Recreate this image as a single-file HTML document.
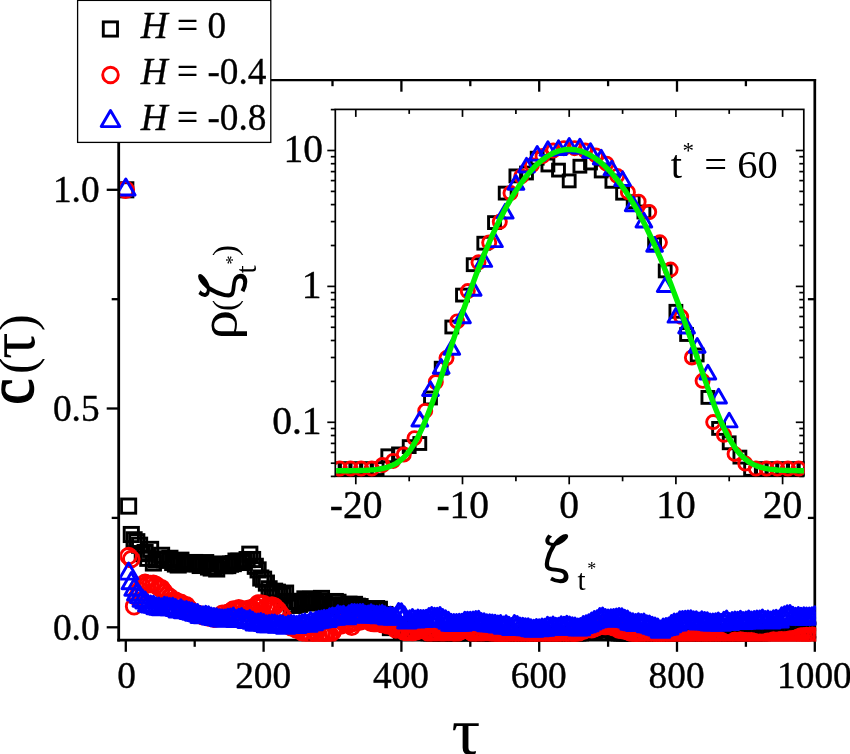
<!DOCTYPE html>
<html lang="en"><head><meta charset="utf-8"><title>C(tau) autocorrelation plot</title>
<style>html,body{margin:0;padding:0;background:#fff}svg{display:block}text{font-family:"Liberation Serif","DejaVu Serif",serif;fill:#000}</style>
</head><body>
<svg width="850" height="754" viewBox="0 0 850 754">
<defs>
<rect id="sq" x="-7.1" y="-7.1" width="14.2" height="14.2" fill="none" stroke="#000" stroke-width="2.9"/>
<circle id="ci" r="7.8" fill="none" stroke="#ff0000" stroke-width="2.9"/>
<path id="tr" d="M0,-10.9 L9.3,5.2 L-9.3,5.2 Z" fill="none" stroke="#0000ff" stroke-width="2.9" stroke-linejoin="round"/>
<rect id="sq2" x="-5.95" y="-5.95" width="11.9" height="11.9" fill="none" stroke="#000" stroke-width="2.9"/>
<circle id="ci2" r="6.55" fill="none" stroke="#ff0000" stroke-width="2.9"/>
<path id="tr2" d="M0,-9.13 L7.9,4.57 L-7.9,4.57 Z" fill="none" stroke="#0000ff" stroke-width="2.9" stroke-linejoin="round"/>
<clipPath id="cm"><rect x="120.1" y="79" width="696.05" height="562.5"/></clipPath>
<clipPath id="ci_"><rect x="336.15" y="108.5" width="468.5" height="368.65"/></clipPath>
</defs>
<rect width="850" height="754" fill="#fff"/>
<g stroke="#000" stroke-width="2.3" fill="none" stroke-linecap="butt">
<path d="M118.7,79.1 V641.5" stroke-width="2.8"/>
<path d="M117.3,640.1 H816.1" stroke-width="2.8"/>
<path d="M814.8,79.1 V641.5" stroke-width="2.7"/>
<path d="M117.3,80.2 H816.1" stroke-width="2.2"/>
<line x1="125.8" y1="640.1" x2="125.8" y2="651.8"/>
<line x1="194.7" y1="640.1" x2="194.7" y2="646.8"/>
<line x1="194.7" y1="80.2" x2="194.7" y2="86.2"/>
<line x1="263.6" y1="640.1" x2="263.6" y2="651.8"/>
<line x1="263.6" y1="80.2" x2="263.6" y2="91.7"/>
<line x1="332.5" y1="640.1" x2="332.5" y2="646.8"/>
<line x1="332.5" y1="80.2" x2="332.5" y2="86.2"/>
<line x1="401.4" y1="640.1" x2="401.4" y2="651.8"/>
<line x1="401.4" y1="80.2" x2="401.4" y2="91.7"/>
<line x1="470.3" y1="640.1" x2="470.3" y2="646.8"/>
<line x1="470.3" y1="80.2" x2="470.3" y2="86.2"/>
<line x1="539.2" y1="640.1" x2="539.2" y2="651.8"/>
<line x1="539.2" y1="80.2" x2="539.2" y2="91.7"/>
<line x1="608.1" y1="640.1" x2="608.1" y2="646.8"/>
<line x1="608.1" y1="80.2" x2="608.1" y2="86.2"/>
<line x1="677.0" y1="640.1" x2="677.0" y2="651.8"/>
<line x1="677.0" y1="80.2" x2="677.0" y2="91.7"/>
<line x1="745.9" y1="640.1" x2="745.9" y2="646.8"/>
<line x1="745.9" y1="80.2" x2="745.9" y2="86.2"/>
<line x1="814.8" y1="640.1" x2="814.8" y2="651.8"/>
<line x1="118.7" y1="627.3" x2="106.7" y2="627.3"/>
<line x1="118.7" y1="517.9" x2="111.7" y2="517.9"/>
<line x1="814.9" y1="517.9" x2="807.9" y2="517.9"/>
<line x1="118.7" y1="408.5" x2="106.7" y2="408.5"/>
<line x1="118.7" y1="299.2" x2="111.7" y2="299.2"/>
<line x1="814.9" y1="299.2" x2="807.9" y2="299.2"/>
<line x1="118.7" y1="189.8" x2="106.7" y2="189.8"/>
</g>
<g clip-path="url(#cm)">
<g>
<use href="#sq" x="125.8" y="189.8"/>
<use href="#sq" x="128.6" y="506.1"/>
<use href="#sq" x="131.3" y="534.5"/>
<use href="#sq" x="134.1" y="539.8"/>
<use href="#sq" x="136.8" y="541.7"/>
<use href="#sq" x="139.6" y="545.2"/>
<use href="#sq" x="142.3" y="553.6"/>
<use href="#sq" x="145.1" y="552.5"/>
<use href="#sq" x="147.8" y="558.3"/>
<use href="#sq" x="150.6" y="549.4"/>
<use href="#sq" x="153.4" y="563.0"/>
<use href="#sq" x="156.1" y="559.9"/>
<use href="#sq" x="158.9" y="558.9"/>
<use href="#sq" x="161.6" y="555.3"/>
<use href="#sq" x="164.4" y="559.8"/>
<use href="#sq" x="167.1" y="560.2"/>
<use href="#sq" x="169.9" y="558.3"/>
<use href="#sq" x="172.7" y="562.5"/>
<use href="#sq" x="175.4" y="564.0"/>
<use href="#sq" x="178.2" y="565.0"/>
<use href="#sq" x="180.9" y="560.2"/>
<use href="#sq" x="183.7" y="562.8"/>
<use href="#sq" x="186.4" y="562.6"/>
<use href="#sq" x="189.2" y="562.9"/>
<use href="#sq" x="191.9" y="564.0"/>
<use href="#sq" x="194.7" y="562.5"/>
<use href="#sq" x="197.5" y="563.7"/>
<use href="#sq" x="200.2" y="565.5"/>
<use href="#sq" x="203.0" y="564.7"/>
<use href="#sq" x="205.7" y="562.6"/>
<use href="#sq" x="208.5" y="567.0"/>
<use href="#sq" x="211.2" y="568.0"/>
<use href="#sq" x="214.0" y="567.4"/>
<use href="#sq" x="216.7" y="569.0"/>
<use href="#sq" x="219.5" y="564.1"/>
<use href="#sq" x="222.3" y="564.4"/>
<use href="#sq" x="225.0" y="565.7"/>
<use href="#sq" x="227.8" y="565.6"/>
<use href="#sq" x="230.5" y="564.2"/>
<use href="#sq" x="233.3" y="563.6"/>
<use href="#sq" x="236.0" y="561.1"/>
<use href="#sq" x="238.8" y="561.2"/>
<use href="#sq" x="241.6" y="562.5"/>
<use href="#sq" x="244.3" y="562.0"/>
<use href="#sq" x="247.1" y="559.6"/>
<use href="#sq" x="249.8" y="554.2"/>
<use href="#sq" x="252.6" y="559.5"/>
<use href="#sq" x="255.3" y="566.3"/>
<use href="#sq" x="258.1" y="569.9"/>
<use href="#sq" x="260.8" y="578.0"/>
<use href="#sq" x="263.6" y="579.2"/>
<use href="#sq" x="266.4" y="583.1"/>
<use href="#sq" x="269.1" y="588.8"/>
<use href="#sq" x="271.9" y="592.2"/>
<use href="#sq" x="274.6" y="591.2"/>
<use href="#sq" x="277.4" y="592.2"/>
<use href="#sq" x="280.1" y="595.7"/>
<use href="#sq" x="282.9" y="595.0"/>
<use href="#sq" x="285.6" y="593.1"/>
<use href="#sq" x="288.4" y="601.6"/>
<use href="#sq" x="291.2" y="604.8"/>
<use href="#sq" x="293.9" y="605.4"/>
<use href="#sq" x="296.7" y="601.3"/>
<use href="#sq" x="299.4" y="604.4"/>
<use href="#sq" x="302.2" y="602.8"/>
<use href="#sq" x="304.9" y="598.9"/>
<use href="#sq" x="307.7" y="603.0"/>
<use href="#sq" x="310.5" y="599.3"/>
<use href="#sq" x="313.2" y="599.8"/>
<use href="#sq" x="316.0" y="602.1"/>
<use href="#sq" x="318.7" y="600.9"/>
<use href="#sq" x="321.5" y="598.4"/>
<use href="#sq" x="324.2" y="604.0"/>
<use href="#sq" x="327.0" y="605.5"/>
<use href="#sq" x="329.7" y="606.6"/>
<use href="#sq" x="332.5" y="605.0"/>
<use href="#sq" x="335.3" y="601.5"/>
<use href="#sq" x="338.0" y="602.3"/>
<use href="#sq" x="340.8" y="605.4"/>
<use href="#sq" x="343.5" y="605.3"/>
<use href="#sq" x="346.3" y="605.4"/>
<use href="#sq" x="349.0" y="604.2"/>
<use href="#sq" x="351.8" y="605.7"/>
<use href="#sq" x="354.5" y="604.4"/>
<use href="#sq" x="357.3" y="606.2"/>
<use href="#sq" x="360.1" y="606.6"/>
<use href="#sq" x="362.8" y="608.8"/>
<use href="#sq" x="365.6" y="610.3"/>
<use href="#sq" x="368.3" y="611.6"/>
<use href="#sq" x="371.1" y="610.6"/>
<use href="#sq" x="373.8" y="609.4"/>
<use href="#sq" x="376.6" y="608.6"/>
<use href="#sq" x="379.4" y="609.3"/>
<use href="#sq" x="382.1" y="616.0"/>
<use href="#sq" x="384.9" y="614.5"/>
<use href="#sq" x="387.6" y="622.1"/>
<use href="#sq" x="390.4" y="627.6"/>
<use href="#sq" x="393.1" y="624.7"/>
<use href="#sq" x="395.9" y="624.7"/>
<use href="#sq" x="398.6" y="626.9"/>
<use href="#sq" x="401.4" y="632.2"/>
<use href="#sq" x="404.2" y="629.6"/>
<use href="#sq" x="406.9" y="630.0"/>
<use href="#sq" x="409.7" y="630.1"/>
<use href="#sq" x="412.4" y="629.5"/>
<use href="#sq" x="415.2" y="630.9"/>
<use href="#sq" x="417.9" y="631.4"/>
<use href="#sq" x="420.7" y="630.9"/>
<use href="#sq" x="423.4" y="628.8"/>
<use href="#sq" x="426.2" y="631.0"/>
<use href="#sq" x="429.0" y="633.1"/>
<use href="#sq" x="431.7" y="633.3"/>
<use href="#sq" x="434.5" y="634.6"/>
<use href="#sq" x="437.2" y="633.1"/>
<use href="#sq" x="440.0" y="633.7"/>
<use href="#sq" x="442.7" y="633.3"/>
<use href="#sq" x="445.5" y="634.2"/>
<use href="#sq" x="448.3" y="632.9"/>
<use href="#sq" x="451.0" y="633.7"/>
<use href="#sq" x="453.8" y="632.9"/>
<use href="#sq" x="456.5" y="633.1"/>
<use href="#sq" x="459.3" y="633.6"/>
<use href="#sq" x="462.0" y="633.5"/>
<use href="#sq" x="464.8" y="630.6"/>
<use href="#sq" x="467.5" y="630.0"/>
<use href="#sq" x="470.3" y="630.8"/>
<use href="#sq" x="473.1" y="631.6"/>
<use href="#sq" x="475.8" y="634.5"/>
<use href="#sq" x="478.6" y="634.1"/>
<use href="#sq" x="481.3" y="633.7"/>
<use href="#sq" x="484.1" y="633.5"/>
<use href="#sq" x="486.8" y="634.2"/>
<use href="#sq" x="489.6" y="633.3"/>
<use href="#sq" x="492.3" y="634.6"/>
<use href="#sq" x="495.1" y="634.9"/>
<use href="#sq" x="497.9" y="634.8"/>
<use href="#sq" x="500.6" y="633.1"/>
<use href="#sq" x="503.4" y="633.1"/>
<use href="#sq" x="506.1" y="634.4"/>
<use href="#sq" x="508.9" y="633.0"/>
<use href="#sq" x="511.6" y="633.6"/>
<use href="#sq" x="514.4" y="633.5"/>
<use href="#sq" x="517.2" y="634.7"/>
<use href="#sq" x="519.9" y="634.6"/>
<use href="#sq" x="522.7" y="635.5"/>
<use href="#sq" x="525.4" y="633.3"/>
<use href="#sq" x="528.2" y="634.4"/>
<use href="#sq" x="530.9" y="633.5"/>
<use href="#sq" x="533.7" y="635.2"/>
<use href="#sq" x="536.4" y="634.1"/>
<use href="#sq" x="539.2" y="634.4"/>
<use href="#sq" x="542.0" y="634.8"/>
<use href="#sq" x="544.7" y="633.8"/>
<use href="#sq" x="547.5" y="635.0"/>
<use href="#sq" x="550.2" y="634.4"/>
<use href="#sq" x="553.0" y="635.1"/>
<use href="#sq" x="555.7" y="635.5"/>
<use href="#sq" x="558.5" y="635.1"/>
<use href="#sq" x="561.2" y="635.1"/>
<use href="#sq" x="564.0" y="634.1"/>
<use href="#sq" x="566.8" y="634.9"/>
<use href="#sq" x="569.5" y="635.1"/>
<use href="#sq" x="572.3" y="635.2"/>
<use href="#sq" x="575.0" y="635.5"/>
<use href="#sq" x="577.8" y="634.6"/>
<use href="#sq" x="580.5" y="633.2"/>
<use href="#sq" x="583.3" y="631.7"/>
<use href="#sq" x="586.1" y="632.1"/>
<use href="#sq" x="588.8" y="630.4"/>
<use href="#sq" x="591.6" y="631.1"/>
<use href="#sq" x="594.3" y="630.5"/>
<use href="#sq" x="597.1" y="629.3"/>
<use href="#sq" x="599.8" y="629.8"/>
<use href="#sq" x="602.6" y="628.5"/>
<use href="#sq" x="605.3" y="629.7"/>
<use href="#sq" x="608.1" y="629.5"/>
<use href="#sq" x="610.9" y="630.1"/>
<use href="#sq" x="613.6" y="631.5"/>
<use href="#sq" x="616.4" y="632.4"/>
<use href="#sq" x="619.1" y="634.1"/>
<use href="#sq" x="621.9" y="634.7"/>
<use href="#sq" x="624.6" y="635.3"/>
<use href="#sq" x="627.4" y="635.5"/>
<use href="#sq" x="630.1" y="634.1"/>
<use href="#sq" x="632.9" y="634.1"/>
<use href="#sq" x="635.7" y="633.5"/>
<use href="#sq" x="638.4" y="634.8"/>
<use href="#sq" x="641.2" y="633.9"/>
<use href="#sq" x="643.9" y="635.7"/>
<use href="#sq" x="646.7" y="634.2"/>
<use href="#sq" x="649.4" y="635.4"/>
<use href="#sq" x="652.2" y="635.4"/>
<use href="#sq" x="655.0" y="634.2"/>
<use href="#sq" x="657.7" y="632.5"/>
<use href="#sq" x="660.5" y="634.8"/>
<use href="#sq" x="663.2" y="635.3"/>
<use href="#sq" x="666.0" y="635.1"/>
<use href="#sq" x="668.7" y="636.4"/>
<use href="#sq" x="671.5" y="636.0"/>
<use href="#sq" x="674.2" y="636.0"/>
<use href="#sq" x="677.0" y="636.0"/>
<use href="#sq" x="679.8" y="636.2"/>
<use href="#sq" x="682.5" y="636.6"/>
<use href="#sq" x="685.3" y="635.8"/>
<use href="#sq" x="688.0" y="637.1"/>
<use href="#sq" x="690.8" y="636.6"/>
<use href="#sq" x="693.5" y="636.6"/>
<use href="#sq" x="696.3" y="634.9"/>
<use href="#sq" x="699.0" y="636.4"/>
<use href="#sq" x="701.8" y="636.3"/>
<use href="#sq" x="704.6" y="637.0"/>
<use href="#sq" x="707.3" y="635.0"/>
<use href="#sq" x="710.1" y="633.2"/>
<use href="#sq" x="712.8" y="631.1"/>
<use href="#sq" x="715.6" y="633.0"/>
<use href="#sq" x="718.3" y="632.9"/>
<use href="#sq" x="721.1" y="633.1"/>
<use href="#sq" x="723.9" y="634.4"/>
<use href="#sq" x="726.6" y="634.3"/>
<use href="#sq" x="729.4" y="634.8"/>
<use href="#sq" x="732.1" y="635.2"/>
<use href="#sq" x="734.9" y="634.6"/>
<use href="#sq" x="737.6" y="632.6"/>
<use href="#sq" x="740.4" y="631.8"/>
<use href="#sq" x="743.1" y="633.5"/>
<use href="#sq" x="745.9" y="631.5"/>
<use href="#sq" x="748.7" y="632.5"/>
<use href="#sq" x="751.4" y="632.4"/>
<use href="#sq" x="754.2" y="633.2"/>
<use href="#sq" x="756.9" y="632.7"/>
<use href="#sq" x="759.7" y="633.4"/>
<use href="#sq" x="762.4" y="632.9"/>
<use href="#sq" x="765.2" y="631.0"/>
<use href="#sq" x="767.9" y="630.7"/>
<use href="#sq" x="770.7" y="631.4"/>
<use href="#sq" x="773.5" y="631.8"/>
<use href="#sq" x="776.2" y="632.0"/>
<use href="#sq" x="779.0" y="631.0"/>
<use href="#sq" x="781.7" y="632.0"/>
<use href="#sq" x="784.5" y="632.2"/>
<use href="#sq" x="787.2" y="630.9"/>
<use href="#sq" x="790.0" y="631.3"/>
<use href="#sq" x="792.8" y="630.4"/>
<use href="#sq" x="795.5" y="629.5"/>
<use href="#sq" x="798.3" y="628.1"/>
<use href="#sq" x="801.0" y="628.2"/>
<use href="#sq" x="803.8" y="629.4"/>
<use href="#sq" x="806.5" y="629.7"/>
<use href="#sq" x="809.3" y="629.4"/>
<use href="#sq" x="812.0" y="630.3"/>
<use href="#sq" x="814.8" y="630.8"/>
</g>
<g>
<use href="#ci" x="125.8" y="189.8"/>
<use href="#ci" x="128.6" y="556.0"/>
<use href="#ci" x="131.3" y="559.0"/>
<use href="#ci" x="134.1" y="606.3"/>
<use href="#ci" x="136.8" y="597.2"/>
<use href="#ci" x="139.6" y="590.3"/>
<use href="#ci" x="142.3" y="586.7"/>
<use href="#ci" x="145.1" y="582.8"/>
<use href="#ci" x="147.8" y="584.1"/>
<use href="#ci" x="150.6" y="584.0"/>
<use href="#ci" x="153.4" y="583.8"/>
<use href="#ci" x="156.1" y="585.1"/>
<use href="#ci" x="158.9" y="587.5"/>
<use href="#ci" x="161.6" y="588.3"/>
<use href="#ci" x="164.4" y="592.0"/>
<use href="#ci" x="167.1" y="595.4"/>
<use href="#ci" x="169.9" y="597.0"/>
<use href="#ci" x="172.7" y="600.8"/>
<use href="#ci" x="175.4" y="600.5"/>
<use href="#ci" x="178.2" y="602.6"/>
<use href="#ci" x="180.9" y="602.8"/>
<use href="#ci" x="183.7" y="607.6"/>
<use href="#ci" x="186.4" y="605.3"/>
<use href="#ci" x="189.2" y="608.8"/>
<use href="#ci" x="191.9" y="611.9"/>
<use href="#ci" x="194.7" y="614.4"/>
<use href="#ci" x="197.5" y="613.7"/>
<use href="#ci" x="200.2" y="614.8"/>
<use href="#ci" x="203.0" y="616.1"/>
<use href="#ci" x="205.7" y="615.7"/>
<use href="#ci" x="208.5" y="617.4"/>
<use href="#ci" x="211.2" y="617.1"/>
<use href="#ci" x="214.0" y="618.8"/>
<use href="#ci" x="216.7" y="618.0"/>
<use href="#ci" x="219.5" y="616.7"/>
<use href="#ci" x="222.3" y="613.7"/>
<use href="#ci" x="225.0" y="616.0"/>
<use href="#ci" x="227.8" y="612.8"/>
<use href="#ci" x="230.5" y="611.8"/>
<use href="#ci" x="233.3" y="609.6"/>
<use href="#ci" x="236.0" y="610.0"/>
<use href="#ci" x="238.8" y="608.3"/>
<use href="#ci" x="241.6" y="609.3"/>
<use href="#ci" x="244.3" y="611.2"/>
<use href="#ci" x="247.1" y="609.3"/>
<use href="#ci" x="249.8" y="608.6"/>
<use href="#ci" x="252.6" y="609.3"/>
<use href="#ci" x="255.3" y="606.3"/>
<use href="#ci" x="258.1" y="603.5"/>
<use href="#ci" x="260.8" y="603.5"/>
<use href="#ci" x="263.6" y="603.9"/>
<use href="#ci" x="266.4" y="606.8"/>
<use href="#ci" x="269.1" y="606.4"/>
<use href="#ci" x="271.9" y="605.4"/>
<use href="#ci" x="274.6" y="606.5"/>
<use href="#ci" x="277.4" y="609.4"/>
<use href="#ci" x="280.1" y="613.0"/>
<use href="#ci" x="282.9" y="616.5"/>
<use href="#ci" x="285.6" y="622.4"/>
<use href="#ci" x="288.4" y="625.4"/>
<use href="#ci" x="291.2" y="627.2"/>
<use href="#ci" x="293.9" y="626.5"/>
<use href="#ci" x="296.7" y="629.7"/>
<use href="#ci" x="299.4" y="629.7"/>
<use href="#ci" x="302.2" y="632.1"/>
<use href="#ci" x="304.9" y="631.2"/>
<use href="#ci" x="307.7" y="634.8"/>
<use href="#ci" x="310.5" y="634.2"/>
<use href="#ci" x="313.2" y="630.7"/>
<use href="#ci" x="316.0" y="633.1"/>
<use href="#ci" x="318.7" y="635.2"/>
<use href="#ci" x="321.5" y="634.0"/>
<use href="#ci" x="324.2" y="634.2"/>
<use href="#ci" x="327.0" y="633.6"/>
<use href="#ci" x="329.7" y="634.3"/>
<use href="#ci" x="332.5" y="632.0"/>
<use href="#ci" x="335.3" y="626.8"/>
<use href="#ci" x="338.0" y="625.8"/>
<use href="#ci" x="340.8" y="625.4"/>
<use href="#ci" x="343.5" y="622.5"/>
<use href="#ci" x="346.3" y="623.2"/>
<use href="#ci" x="349.0" y="624.4"/>
<use href="#ci" x="351.8" y="626.8"/>
<use href="#ci" x="354.5" y="622.8"/>
<use href="#ci" x="357.3" y="620.2"/>
<use href="#ci" x="360.1" y="621.5"/>
<use href="#ci" x="362.8" y="620.0"/>
<use href="#ci" x="365.6" y="620.0"/>
<use href="#ci" x="368.3" y="618.7"/>
<use href="#ci" x="371.1" y="622.7"/>
<use href="#ci" x="373.8" y="623.0"/>
<use href="#ci" x="376.6" y="623.1"/>
<use href="#ci" x="379.4" y="622.6"/>
<use href="#ci" x="382.1" y="624.0"/>
<use href="#ci" x="384.9" y="624.2"/>
<use href="#ci" x="387.6" y="625.3"/>
<use href="#ci" x="390.4" y="625.3"/>
<use href="#ci" x="393.1" y="626.1"/>
<use href="#ci" x="395.9" y="629.5"/>
<use href="#ci" x="398.6" y="628.2"/>
<use href="#ci" x="401.4" y="628.5"/>
<use href="#ci" x="404.2" y="631.8"/>
<use href="#ci" x="406.9" y="632.1"/>
<use href="#ci" x="409.7" y="631.4"/>
<use href="#ci" x="412.4" y="632.2"/>
<use href="#ci" x="415.2" y="631.6"/>
<use href="#ci" x="417.9" y="630.7"/>
<use href="#ci" x="420.7" y="628.1"/>
<use href="#ci" x="423.4" y="628.0"/>
<use href="#ci" x="426.2" y="630.5"/>
<use href="#ci" x="429.0" y="633.0"/>
<use href="#ci" x="431.7" y="632.3"/>
<use href="#ci" x="434.5" y="632.5"/>
<use href="#ci" x="437.2" y="632.5"/>
<use href="#ci" x="440.0" y="631.3"/>
<use href="#ci" x="442.7" y="632.9"/>
<use href="#ci" x="445.5" y="631.7"/>
<use href="#ci" x="448.3" y="632.5"/>
<use href="#ci" x="451.0" y="631.9"/>
<use href="#ci" x="453.8" y="632.6"/>
<use href="#ci" x="456.5" y="633.1"/>
<use href="#ci" x="459.3" y="631.8"/>
<use href="#ci" x="462.0" y="630.4"/>
<use href="#ci" x="464.8" y="629.8"/>
<use href="#ci" x="467.5" y="629.3"/>
<use href="#ci" x="470.3" y="631.1"/>
<use href="#ci" x="473.1" y="633.2"/>
<use href="#ci" x="475.8" y="632.4"/>
<use href="#ci" x="478.6" y="632.6"/>
<use href="#ci" x="481.3" y="632.7"/>
<use href="#ci" x="484.1" y="632.4"/>
<use href="#ci" x="486.8" y="631.9"/>
<use href="#ci" x="489.6" y="632.6"/>
<use href="#ci" x="492.3" y="632.8"/>
<use href="#ci" x="495.1" y="632.9"/>
<use href="#ci" x="497.9" y="633.0"/>
<use href="#ci" x="500.6" y="635.1"/>
<use href="#ci" x="503.4" y="634.3"/>
<use href="#ci" x="506.1" y="635.5"/>
<use href="#ci" x="508.9" y="636.5"/>
<use href="#ci" x="511.6" y="636.0"/>
<use href="#ci" x="514.4" y="636.8"/>
<use href="#ci" x="517.2" y="637.3"/>
<use href="#ci" x="519.9" y="637.1"/>
<use href="#ci" x="522.7" y="636.4"/>
<use href="#ci" x="525.4" y="636.0"/>
<use href="#ci" x="528.2" y="636.4"/>
<use href="#ci" x="530.9" y="636.2"/>
<use href="#ci" x="533.7" y="635.9"/>
<use href="#ci" x="536.4" y="636.7"/>
<use href="#ci" x="539.2" y="636.4"/>
<use href="#ci" x="542.0" y="637.0"/>
<use href="#ci" x="544.7" y="636.9"/>
<use href="#ci" x="547.5" y="637.1"/>
<use href="#ci" x="550.2" y="636.8"/>
<use href="#ci" x="553.0" y="636.9"/>
<use href="#ci" x="555.7" y="637.1"/>
<use href="#ci" x="558.5" y="637.1"/>
<use href="#ci" x="561.2" y="636.8"/>
<use href="#ci" x="564.0" y="637.3"/>
<use href="#ci" x="566.8" y="637.0"/>
<use href="#ci" x="569.5" y="635.4"/>
<use href="#ci" x="572.3" y="634.7"/>
<use href="#ci" x="575.0" y="632.7"/>
<use href="#ci" x="577.8" y="632.9"/>
<use href="#ci" x="580.5" y="630.7"/>
<use href="#ci" x="583.3" y="630.8"/>
<use href="#ci" x="586.1" y="629.1"/>
<use href="#ci" x="588.8" y="628.1"/>
<use href="#ci" x="591.6" y="629.2"/>
<use href="#ci" x="594.3" y="628.3"/>
<use href="#ci" x="597.1" y="626.9"/>
<use href="#ci" x="599.8" y="625.7"/>
<use href="#ci" x="602.6" y="625.3"/>
<use href="#ci" x="605.3" y="625.9"/>
<use href="#ci" x="608.1" y="625.8"/>
<use href="#ci" x="610.9" y="626.2"/>
<use href="#ci" x="613.6" y="626.9"/>
<use href="#ci" x="616.4" y="627.3"/>
<use href="#ci" x="619.1" y="629.7"/>
<use href="#ci" x="621.9" y="629.3"/>
<use href="#ci" x="624.6" y="630.6"/>
<use href="#ci" x="627.4" y="631.0"/>
<use href="#ci" x="630.1" y="632.2"/>
<use href="#ci" x="632.9" y="633.5"/>
<use href="#ci" x="635.7" y="633.8"/>
<use href="#ci" x="638.4" y="635.1"/>
<use href="#ci" x="641.2" y="635.6"/>
<use href="#ci" x="643.9" y="637.1"/>
<use href="#ci" x="646.7" y="636.7"/>
<use href="#ci" x="649.4" y="637.0"/>
<use href="#ci" x="652.2" y="636.4"/>
<use href="#ci" x="655.0" y="636.3"/>
<use href="#ci" x="657.7" y="635.2"/>
<use href="#ci" x="660.5" y="636.1"/>
<use href="#ci" x="663.2" y="636.3"/>
<use href="#ci" x="666.0" y="636.3"/>
<use href="#ci" x="668.7" y="636.5"/>
<use href="#ci" x="671.5" y="637.3"/>
<use href="#ci" x="674.2" y="637.8"/>
<use href="#ci" x="677.0" y="638.0"/>
<use href="#ci" x="679.8" y="638.4"/>
<use href="#ci" x="682.5" y="639.2"/>
<use href="#ci" x="685.3" y="638.8"/>
<use href="#ci" x="688.0" y="639.2"/>
<use href="#ci" x="690.8" y="639.0"/>
<use href="#ci" x="693.5" y="639.6"/>
<use href="#ci" x="696.3" y="639.3"/>
<use href="#ci" x="699.0" y="639.7"/>
<use href="#ci" x="701.8" y="640.2"/>
<use href="#ci" x="704.6" y="638.8"/>
<use href="#ci" x="707.3" y="639.3"/>
<use href="#ci" x="710.1" y="638.4"/>
<use href="#ci" x="712.8" y="638.5"/>
<use href="#ci" x="715.6" y="639.6"/>
<use href="#ci" x="718.3" y="639.7"/>
<use href="#ci" x="721.1" y="640.9"/>
<use href="#ci" x="723.9" y="642.6"/>
<use href="#ci" x="726.6" y="644.0"/>
<use href="#ci" x="729.4" y="643.2"/>
<use href="#ci" x="732.1" y="642.8"/>
<use href="#ci" x="734.9" y="640.7"/>
<use href="#ci" x="737.6" y="641.8"/>
<use href="#ci" x="740.4" y="640.6"/>
<use href="#ci" x="743.1" y="641.0"/>
<use href="#ci" x="745.9" y="641.3"/>
<use href="#ci" x="748.7" y="641.5"/>
<use href="#ci" x="751.4" y="641.2"/>
<use href="#ci" x="754.2" y="642.0"/>
<use href="#ci" x="756.9" y="642.9"/>
<use href="#ci" x="759.7" y="642.8"/>
<use href="#ci" x="762.4" y="643.1"/>
<use href="#ci" x="765.2" y="642.8"/>
<use href="#ci" x="767.9" y="641.7"/>
<use href="#ci" x="770.7" y="641.9"/>
<use href="#ci" x="773.5" y="640.6"/>
<use href="#ci" x="776.2" y="641.2"/>
<use href="#ci" x="779.0" y="640.4"/>
<use href="#ci" x="781.7" y="640.3"/>
<use href="#ci" x="784.5" y="640.7"/>
<use href="#ci" x="787.2" y="640.2"/>
<use href="#ci" x="790.0" y="639.6"/>
<use href="#ci" x="792.8" y="639.4"/>
<use href="#ci" x="795.5" y="638.8"/>
<use href="#ci" x="798.3" y="637.7"/>
<use href="#ci" x="801.0" y="636.5"/>
<use href="#ci" x="803.8" y="636.5"/>
<use href="#ci" x="806.5" y="636.0"/>
<use href="#ci" x="809.3" y="636.5"/>
<use href="#ci" x="812.0" y="635.7"/>
<use href="#ci" x="814.8" y="637.1"/>
</g>
<g>
<use href="#tr" x="125.8" y="189.8"/>
<use href="#tr" x="128.6" y="573.9"/>
<use href="#tr" x="131.3" y="583.5"/>
<use href="#tr" x="134.1" y="590.1"/>
<use href="#tr" x="136.8" y="594.9"/>
<use href="#tr" x="139.6" y="597.4"/>
<use href="#tr" x="142.3" y="601.0"/>
<use href="#tr" x="145.1" y="602.9"/>
<use href="#tr" x="147.8" y="605.8"/>
<use href="#tr" x="150.6" y="606.8"/>
<use href="#tr" x="153.4" y="607.1"/>
<use href="#tr" x="156.1" y="608.6"/>
<use href="#tr" x="158.9" y="609.0"/>
<use href="#tr" x="161.6" y="609.7"/>
<use href="#tr" x="164.4" y="608.2"/>
<use href="#tr" x="167.1" y="608.6"/>
<use href="#tr" x="169.9" y="609.5"/>
<use href="#tr" x="172.7" y="609.1"/>
<use href="#tr" x="175.4" y="610.4"/>
<use href="#tr" x="178.2" y="611.9"/>
<use href="#tr" x="180.9" y="610.6"/>
<use href="#tr" x="183.7" y="612.7"/>
<use href="#tr" x="186.4" y="612.4"/>
<use href="#tr" x="189.2" y="613.4"/>
<use href="#tr" x="191.9" y="614.0"/>
<use href="#tr" x="194.7" y="615.1"/>
<use href="#tr" x="197.5" y="615.5"/>
<use href="#tr" x="200.2" y="617.3"/>
<use href="#tr" x="203.0" y="617.6"/>
<use href="#tr" x="205.7" y="617.2"/>
<use href="#tr" x="208.5" y="617.6"/>
<use href="#tr" x="211.2" y="618.9"/>
<use href="#tr" x="214.0" y="619.3"/>
<use href="#tr" x="216.7" y="619.6"/>
<use href="#tr" x="219.5" y="620.6"/>
<use href="#tr" x="222.3" y="620.9"/>
<use href="#tr" x="225.0" y="620.8"/>
<use href="#tr" x="227.8" y="620.2"/>
<use href="#tr" x="230.5" y="619.8"/>
<use href="#tr" x="233.3" y="619.0"/>
<use href="#tr" x="236.0" y="621.3"/>
<use href="#tr" x="238.8" y="620.1"/>
<use href="#tr" x="241.6" y="619.3"/>
<use href="#tr" x="244.3" y="621.4"/>
<use href="#tr" x="247.1" y="622.4"/>
<use href="#tr" x="249.8" y="621.3"/>
<use href="#tr" x="252.6" y="623.2"/>
<use href="#tr" x="255.3" y="624.8"/>
<use href="#tr" x="258.1" y="624.8"/>
<use href="#tr" x="260.8" y="624.4"/>
<use href="#tr" x="263.6" y="625.3"/>
<use href="#tr" x="266.4" y="626.7"/>
<use href="#tr" x="269.1" y="626.5"/>
<use href="#tr" x="271.9" y="625.9"/>
<use href="#tr" x="274.6" y="626.0"/>
<use href="#tr" x="277.4" y="627.0"/>
<use href="#tr" x="280.1" y="626.3"/>
<use href="#tr" x="282.9" y="626.9"/>
<use href="#tr" x="285.6" y="628.1"/>
<use href="#tr" x="288.4" y="627.0"/>
<use href="#tr" x="291.2" y="626.3"/>
<use href="#tr" x="293.9" y="626.7"/>
<use href="#tr" x="296.7" y="627.3"/>
<use href="#tr" x="299.4" y="626.3"/>
<use href="#tr" x="302.2" y="625.6"/>
<use href="#tr" x="304.9" y="624.8"/>
<use href="#tr" x="307.7" y="626.2"/>
<use href="#tr" x="310.5" y="623.5"/>
<use href="#tr" x="313.2" y="624.6"/>
<use href="#tr" x="316.0" y="622.9"/>
<use href="#tr" x="318.7" y="622.2"/>
<use href="#tr" x="321.5" y="621.8"/>
<use href="#tr" x="324.2" y="621.2"/>
<use href="#tr" x="327.0" y="621.3"/>
<use href="#tr" x="329.7" y="619.6"/>
<use href="#tr" x="332.5" y="618.9"/>
<use href="#tr" x="335.3" y="619.2"/>
<use href="#tr" x="338.0" y="616.6"/>
<use href="#tr" x="340.8" y="617.7"/>
<use href="#tr" x="343.5" y="617.2"/>
<use href="#tr" x="346.3" y="618.7"/>
<use href="#tr" x="349.0" y="616.6"/>
<use href="#tr" x="351.8" y="615.5"/>
<use href="#tr" x="354.5" y="615.4"/>
<use href="#tr" x="357.3" y="615.6"/>
<use href="#tr" x="360.1" y="615.4"/>
<use href="#tr" x="362.8" y="615.3"/>
<use href="#tr" x="365.6" y="617.2"/>
<use href="#tr" x="368.3" y="616.8"/>
<use href="#tr" x="371.1" y="615.6"/>
<use href="#tr" x="373.8" y="616.9"/>
<use href="#tr" x="376.6" y="617.2"/>
<use href="#tr" x="379.4" y="617.5"/>
<use href="#tr" x="382.1" y="616.5"/>
<use href="#tr" x="384.9" y="617.6"/>
<use href="#tr" x="387.6" y="618.9"/>
<use href="#tr" x="390.4" y="618.1"/>
<use href="#tr" x="393.1" y="619.1"/>
<use href="#tr" x="395.9" y="618.6"/>
<use href="#tr" x="398.6" y="614.5"/>
<use href="#tr" x="401.4" y="614.7"/>
<use href="#tr" x="404.2" y="617.7"/>
<use href="#tr" x="406.9" y="622.8"/>
<use href="#tr" x="409.7" y="621.7"/>
<use href="#tr" x="412.4" y="620.5"/>
<use href="#tr" x="415.2" y="621.9"/>
<use href="#tr" x="417.9" y="620.9"/>
<use href="#tr" x="420.7" y="621.3"/>
<use href="#tr" x="423.4" y="621.3"/>
<use href="#tr" x="426.2" y="621.2"/>
<use href="#tr" x="429.0" y="619.4"/>
<use href="#tr" x="431.7" y="618.4"/>
<use href="#tr" x="434.5" y="619.2"/>
<use href="#tr" x="437.2" y="619.2"/>
<use href="#tr" x="440.0" y="618.4"/>
<use href="#tr" x="442.7" y="620.5"/>
<use href="#tr" x="445.5" y="621.6"/>
<use href="#tr" x="448.3" y="623.2"/>
<use href="#tr" x="451.0" y="625.2"/>
<use href="#tr" x="453.8" y="625.4"/>
<use href="#tr" x="456.5" y="625.3"/>
<use href="#tr" x="459.3" y="625.2"/>
<use href="#tr" x="462.0" y="625.2"/>
<use href="#tr" x="464.8" y="623.2"/>
<use href="#tr" x="467.5" y="623.1"/>
<use href="#tr" x="470.3" y="623.1"/>
<use href="#tr" x="473.1" y="622.9"/>
<use href="#tr" x="475.8" y="622.3"/>
<use href="#tr" x="478.6" y="622.2"/>
<use href="#tr" x="481.3" y="624.4"/>
<use href="#tr" x="484.1" y="624.6"/>
<use href="#tr" x="486.8" y="625.6"/>
<use href="#tr" x="489.6" y="625.7"/>
<use href="#tr" x="492.3" y="625.8"/>
<use href="#tr" x="495.1" y="626.1"/>
<use href="#tr" x="497.9" y="626.9"/>
<use href="#tr" x="500.6" y="626.4"/>
<use href="#tr" x="503.4" y="628.0"/>
<use href="#tr" x="506.1" y="626.6"/>
<use href="#tr" x="508.9" y="628.1"/>
<use href="#tr" x="511.6" y="629.4"/>
<use href="#tr" x="514.4" y="626.5"/>
<use href="#tr" x="517.2" y="627.4"/>
<use href="#tr" x="519.9" y="629.0"/>
<use href="#tr" x="522.7" y="629.1"/>
<use href="#tr" x="525.4" y="629.7"/>
<use href="#tr" x="528.2" y="629.7"/>
<use href="#tr" x="530.9" y="630.7"/>
<use href="#tr" x="533.7" y="631.1"/>
<use href="#tr" x="536.4" y="630.4"/>
<use href="#tr" x="539.2" y="630.7"/>
<use href="#tr" x="542.0" y="629.8"/>
<use href="#tr" x="544.7" y="630.1"/>
<use href="#tr" x="547.5" y="628.1"/>
<use href="#tr" x="550.2" y="628.8"/>
<use href="#tr" x="553.0" y="627.8"/>
<use href="#tr" x="555.7" y="629.1"/>
<use href="#tr" x="558.5" y="629.1"/>
<use href="#tr" x="561.2" y="627.6"/>
<use href="#tr" x="564.0" y="628.2"/>
<use href="#tr" x="566.8" y="627.2"/>
<use href="#tr" x="569.5" y="628.0"/>
<use href="#tr" x="572.3" y="628.7"/>
<use href="#tr" x="575.0" y="629.0"/>
<use href="#tr" x="577.8" y="629.9"/>
<use href="#tr" x="580.5" y="629.5"/>
<use href="#tr" x="583.3" y="627.4"/>
<use href="#tr" x="586.1" y="626.7"/>
<use href="#tr" x="588.8" y="625.7"/>
<use href="#tr" x="591.6" y="623.9"/>
<use href="#tr" x="594.3" y="622.5"/>
<use href="#tr" x="597.1" y="621.7"/>
<use href="#tr" x="599.8" y="619.5"/>
<use href="#tr" x="602.6" y="618.8"/>
<use href="#tr" x="605.3" y="620.5"/>
<use href="#tr" x="608.1" y="621.0"/>
<use href="#tr" x="610.9" y="620.7"/>
<use href="#tr" x="613.6" y="620.3"/>
<use href="#tr" x="616.4" y="619.8"/>
<use href="#tr" x="619.1" y="619.5"/>
<use href="#tr" x="621.9" y="619.7"/>
<use href="#tr" x="624.6" y="621.1"/>
<use href="#tr" x="627.4" y="621.8"/>
<use href="#tr" x="630.1" y="624.0"/>
<use href="#tr" x="632.9" y="624.7"/>
<use href="#tr" x="635.7" y="625.4"/>
<use href="#tr" x="638.4" y="624.6"/>
<use href="#tr" x="641.2" y="625.3"/>
<use href="#tr" x="643.9" y="625.0"/>
<use href="#tr" x="646.7" y="626.7"/>
<use href="#tr" x="649.4" y="626.9"/>
<use href="#tr" x="652.2" y="628.2"/>
<use href="#tr" x="655.0" y="629.0"/>
<use href="#tr" x="657.7" y="629.8"/>
<use href="#tr" x="660.5" y="632.0"/>
<use href="#tr" x="663.2" y="630.0"/>
<use href="#tr" x="666.0" y="629.3"/>
<use href="#tr" x="668.7" y="628.9"/>
<use href="#tr" x="671.5" y="626.5"/>
<use href="#tr" x="674.2" y="624.9"/>
<use href="#tr" x="677.0" y="624.9"/>
<use href="#tr" x="679.8" y="622.6"/>
<use href="#tr" x="682.5" y="622.5"/>
<use href="#tr" x="685.3" y="622.1"/>
<use href="#tr" x="688.0" y="622.0"/>
<use href="#tr" x="690.8" y="621.7"/>
<use href="#tr" x="693.5" y="622.7"/>
<use href="#tr" x="696.3" y="622.6"/>
<use href="#tr" x="699.0" y="623.8"/>
<use href="#tr" x="701.8" y="622.6"/>
<use href="#tr" x="704.6" y="623.5"/>
<use href="#tr" x="707.3" y="623.6"/>
<use href="#tr" x="710.1" y="624.9"/>
<use href="#tr" x="712.8" y="624.8"/>
<use href="#tr" x="715.6" y="624.6"/>
<use href="#tr" x="718.3" y="623.9"/>
<use href="#tr" x="721.1" y="625.2"/>
<use href="#tr" x="723.9" y="623.2"/>
<use href="#tr" x="726.6" y="622.0"/>
<use href="#tr" x="729.4" y="624.4"/>
<use href="#tr" x="732.1" y="623.3"/>
<use href="#tr" x="734.9" y="623.0"/>
<use href="#tr" x="737.6" y="623.2"/>
<use href="#tr" x="740.4" y="622.1"/>
<use href="#tr" x="743.1" y="623.4"/>
<use href="#tr" x="745.9" y="622.8"/>
<use href="#tr" x="748.7" y="622.0"/>
<use href="#tr" x="751.4" y="622.9"/>
<use href="#tr" x="754.2" y="622.5"/>
<use href="#tr" x="756.9" y="621.8"/>
<use href="#tr" x="759.7" y="621.9"/>
<use href="#tr" x="762.4" y="620.8"/>
<use href="#tr" x="765.2" y="622.4"/>
<use href="#tr" x="767.9" y="622.0"/>
<use href="#tr" x="770.7" y="622.8"/>
<use href="#tr" x="773.5" y="621.7"/>
<use href="#tr" x="776.2" y="621.2"/>
<use href="#tr" x="779.0" y="621.9"/>
<use href="#tr" x="781.7" y="618.7"/>
<use href="#tr" x="784.5" y="617.7"/>
<use href="#tr" x="787.2" y="616.7"/>
<use href="#tr" x="790.0" y="616.4"/>
<use href="#tr" x="792.8" y="618.2"/>
<use href="#tr" x="795.5" y="619.1"/>
<use href="#tr" x="798.3" y="618.3"/>
<use href="#tr" x="801.0" y="619.2"/>
<use href="#tr" x="803.8" y="618.6"/>
<use href="#tr" x="806.5" y="618.9"/>
<use href="#tr" x="809.3" y="618.8"/>
<use href="#tr" x="812.0" y="618.6"/>
<use href="#tr" x="814.8" y="617.6"/>
</g>
</g>
<g font-size="37.3px" text-anchor="middle" stroke="#000" stroke-width="0.4">
<text x="126.6" y="688.3">0</text>
<text x="263.2" y="688.3">200</text>
<text x="401.0" y="688.3">400</text>
<text x="538.8" y="688.3">600</text>
<text x="676.6" y="688.3">800</text>
<text x="814.4" y="688.3">1000</text>
</g>
<g font-size="37.3px" text-anchor="end" stroke="#000" stroke-width="0.4">
<text x="99.6" y="639.6">0.0</text>
<text x="99.6" y="420.8">0.5</text>
<text x="99.6" y="202.1">1.0</text>
</g>
<rect x="335.4" y="109.4" width="468.6" height="366.9" fill="#fff"/>
<g stroke="#000" stroke-width="1.7" fill="none">
<rect x="335.3" y="109.4" width="468.5" height="366.9"/>
<line x1="355.8" y1="476.3" x2="355.8" y2="484.3"/>
<line x1="355.8" y1="109.4" x2="355.8" y2="116.9"/>
<line x1="409.2" y1="476.3" x2="409.2" y2="481.3"/>
<line x1="409.2" y1="109.4" x2="409.2" y2="113.9"/>
<line x1="462.5" y1="476.3" x2="462.5" y2="484.3"/>
<line x1="462.5" y1="109.4" x2="462.5" y2="116.9"/>
<line x1="515.9" y1="476.3" x2="515.9" y2="481.3"/>
<line x1="515.9" y1="109.4" x2="515.9" y2="113.9"/>
<line x1="569.2" y1="476.3" x2="569.2" y2="484.3"/>
<line x1="569.2" y1="109.4" x2="569.2" y2="116.9"/>
<line x1="622.6" y1="476.3" x2="622.6" y2="481.3"/>
<line x1="622.6" y1="109.4" x2="622.6" y2="113.9"/>
<line x1="675.9" y1="476.3" x2="675.9" y2="484.3"/>
<line x1="675.9" y1="109.4" x2="675.9" y2="116.9"/>
<line x1="729.2" y1="476.3" x2="729.2" y2="481.3"/>
<line x1="729.2" y1="109.4" x2="729.2" y2="113.9"/>
<line x1="782.6" y1="476.3" x2="782.6" y2="484.3"/>
<line x1="782.6" y1="109.4" x2="782.6" y2="116.9"/>
<line x1="335.3" y1="476.4" x2="330.8" y2="476.4"/>
<line x1="803.8" y1="476.4" x2="799.3" y2="476.4"/>
<line x1="335.3" y1="463.2" x2="330.8" y2="463.2"/>
<line x1="803.8" y1="463.2" x2="799.3" y2="463.2"/>
<line x1="335.3" y1="452.4" x2="330.8" y2="452.4"/>
<line x1="803.8" y1="452.4" x2="799.3" y2="452.4"/>
<line x1="335.3" y1="443.4" x2="330.8" y2="443.4"/>
<line x1="803.8" y1="443.4" x2="799.3" y2="443.4"/>
<line x1="335.3" y1="435.5" x2="330.8" y2="435.5"/>
<line x1="803.8" y1="435.5" x2="799.3" y2="435.5"/>
<line x1="335.3" y1="428.5" x2="330.8" y2="428.5"/>
<line x1="803.8" y1="428.5" x2="799.3" y2="428.5"/>
<line x1="335.3" y1="422.3" x2="327.3" y2="422.3"/>
<line x1="803.8" y1="422.3" x2="795.8" y2="422.3"/>
<line x1="335.3" y1="381.4" x2="330.8" y2="381.4"/>
<line x1="803.8" y1="381.4" x2="799.3" y2="381.4"/>
<line x1="335.3" y1="357.5" x2="330.8" y2="357.5"/>
<line x1="803.8" y1="357.5" x2="799.3" y2="357.5"/>
<line x1="335.3" y1="340.5" x2="330.8" y2="340.5"/>
<line x1="803.8" y1="340.5" x2="799.3" y2="340.5"/>
<line x1="335.3" y1="327.3" x2="330.8" y2="327.3"/>
<line x1="803.8" y1="327.3" x2="799.3" y2="327.3"/>
<line x1="335.3" y1="316.5" x2="330.8" y2="316.5"/>
<line x1="803.8" y1="316.5" x2="799.3" y2="316.5"/>
<line x1="335.3" y1="307.5" x2="330.8" y2="307.5"/>
<line x1="803.8" y1="307.5" x2="799.3" y2="307.5"/>
<line x1="335.3" y1="299.6" x2="330.8" y2="299.6"/>
<line x1="803.8" y1="299.6" x2="799.3" y2="299.6"/>
<line x1="335.3" y1="292.6" x2="330.8" y2="292.6"/>
<line x1="803.8" y1="292.6" x2="799.3" y2="292.6"/>
<line x1="335.3" y1="286.4" x2="327.3" y2="286.4"/>
<line x1="803.8" y1="286.4" x2="795.8" y2="286.4"/>
<line x1="335.3" y1="245.5" x2="330.8" y2="245.5"/>
<line x1="803.8" y1="245.5" x2="799.3" y2="245.5"/>
<line x1="335.3" y1="221.6" x2="330.8" y2="221.6"/>
<line x1="803.8" y1="221.6" x2="799.3" y2="221.6"/>
<line x1="335.3" y1="204.6" x2="330.8" y2="204.6"/>
<line x1="803.8" y1="204.6" x2="799.3" y2="204.6"/>
<line x1="335.3" y1="191.4" x2="330.8" y2="191.4"/>
<line x1="803.8" y1="191.4" x2="799.3" y2="191.4"/>
<line x1="335.3" y1="180.6" x2="330.8" y2="180.6"/>
<line x1="803.8" y1="180.6" x2="799.3" y2="180.6"/>
<line x1="335.3" y1="171.6" x2="330.8" y2="171.6"/>
<line x1="803.8" y1="171.6" x2="799.3" y2="171.6"/>
<line x1="335.3" y1="163.7" x2="330.8" y2="163.7"/>
<line x1="803.8" y1="163.7" x2="799.3" y2="163.7"/>
<line x1="335.3" y1="156.7" x2="330.8" y2="156.7"/>
<line x1="803.8" y1="156.7" x2="799.3" y2="156.7"/>
<line x1="335.3" y1="150.5" x2="327.3" y2="150.5"/>
<line x1="803.8" y1="150.5" x2="795.8" y2="150.5"/>
<line x1="335.3" y1="109.6" x2="330.8" y2="109.6"/>
</g>
<g clip-path="url(#ci_)">
<g>
<use href="#sq2" x="334.5" y="468.6"/>
<use href="#sq2" x="345.1" y="468.6"/>
<use href="#sq2" x="355.8" y="468.6"/>
<use href="#sq2" x="366.5" y="468.6"/>
<use href="#sq2" x="377.1" y="468.6"/>
<use href="#sq2" x="387.8" y="455.8"/>
<use href="#sq2" x="398.5" y="453.9"/>
<use href="#sq2" x="409.2" y="446.6"/>
<use href="#sq2" x="419.8" y="443.5"/>
<use href="#sq2" x="430.5" y="398.0"/>
<use href="#sq2" x="441.2" y="368.2"/>
<use href="#sq2" x="451.8" y="327.0"/>
<use href="#sq2" x="462.5" y="295.1"/>
<use href="#sq2" x="473.2" y="264.7"/>
<use href="#sq2" x="483.8" y="243.2"/>
<use href="#sq2" x="494.5" y="222.6"/>
<use href="#sq2" x="505.2" y="193.1"/>
<use href="#sq2" x="515.9" y="175.9"/>
<use href="#sq2" x="526.5" y="173.0"/>
<use href="#sq2" x="537.2" y="158.2"/>
<use href="#sq2" x="547.9" y="165.0"/>
<use href="#sq2" x="558.5" y="170.1"/>
<use href="#sq2" x="569.2" y="180.9"/>
<use href="#sq2" x="579.9" y="166.2"/>
<use href="#sq2" x="590.5" y="163.0"/>
<use href="#sq2" x="601.2" y="171.0"/>
<use href="#sq2" x="611.9" y="181.3"/>
<use href="#sq2" x="622.6" y="193.2"/>
<use href="#sq2" x="633.2" y="201.7"/>
<use href="#sq2" x="643.9" y="212.0"/>
<use href="#sq2" x="654.6" y="244.0"/>
<use href="#sq2" x="665.2" y="270.9"/>
<use href="#sq2" x="675.9" y="311.3"/>
<use href="#sq2" x="686.6" y="334.5"/>
<use href="#sq2" x="697.2" y="355.0"/>
<use href="#sq2" x="707.9" y="397.4"/>
<use href="#sq2" x="718.6" y="428.4"/>
<use href="#sq2" x="729.2" y="442.8"/>
<use href="#sq2" x="739.9" y="457.1"/>
<use href="#sq2" x="750.6" y="469.4"/>
<use href="#sq2" x="761.3" y="468.6"/>
<use href="#sq2" x="771.9" y="468.6"/>
<use href="#sq2" x="782.6" y="468.6"/>
<use href="#sq2" x="793.3" y="468.6"/>
<use href="#sq2" x="803.9" y="468.6"/>
</g>
<g>
<use href="#ci2" x="339.8" y="468.6"/>
<use href="#ci2" x="350.5" y="468.6"/>
<use href="#ci2" x="361.1" y="468.6"/>
<use href="#ci2" x="371.8" y="468.6"/>
<use href="#ci2" x="382.5" y="465.0"/>
<use href="#ci2" x="393.1" y="460.9"/>
<use href="#ci2" x="403.8" y="454.5"/>
<use href="#ci2" x="414.5" y="438.2"/>
<use href="#ci2" x="425.2" y="410.9"/>
<use href="#ci2" x="435.8" y="382.0"/>
<use href="#ci2" x="446.5" y="358.1"/>
<use href="#ci2" x="457.2" y="321.4"/>
<use href="#ci2" x="467.8" y="291.1"/>
<use href="#ci2" x="478.5" y="262.3"/>
<use href="#ci2" x="489.2" y="242.4"/>
<use href="#ci2" x="499.8" y="221.8"/>
<use href="#ci2" x="510.5" y="193.1"/>
<use href="#ci2" x="521.2" y="176.4"/>
<use href="#ci2" x="531.9" y="165.2"/>
<use href="#ci2" x="542.5" y="156.1"/>
<use href="#ci2" x="553.2" y="150.5"/>
<use href="#ci2" x="563.9" y="148.2"/>
<use href="#ci2" x="574.5" y="148.2"/>
<use href="#ci2" x="585.2" y="150.5"/>
<use href="#ci2" x="595.9" y="155.4"/>
<use href="#ci2" x="606.5" y="163.7"/>
<use href="#ci2" x="617.2" y="175.9"/>
<use href="#ci2" x="627.9" y="192.2"/>
<use href="#ci2" x="638.6" y="201.7"/>
<use href="#ci2" x="649.2" y="212.0"/>
<use href="#ci2" x="659.9" y="242.3"/>
<use href="#ci2" x="670.6" y="269.6"/>
<use href="#ci2" x="681.2" y="316.8"/>
<use href="#ci2" x="691.9" y="357.5"/>
<use href="#ci2" x="702.6" y="380.8"/>
<use href="#ci2" x="713.2" y="422.1"/>
<use href="#ci2" x="723.9" y="434.8"/>
<use href="#ci2" x="734.6" y="453.9"/>
<use href="#ci2" x="745.3" y="463.6"/>
<use href="#ci2" x="755.9" y="468.6"/>
<use href="#ci2" x="766.6" y="468.6"/>
<use href="#ci2" x="777.3" y="468.6"/>
<use href="#ci2" x="787.9" y="468.6"/>
<use href="#ci2" x="798.6" y="468.6"/>
</g>
<g>
<use href="#tr2" x="419.8" y="421.4"/>
<use href="#tr2" x="430.5" y="391.0"/>
<use href="#tr2" x="441.2" y="368.7"/>
<use href="#tr2" x="451.8" y="349.7"/>
<use href="#tr2" x="462.5" y="318.2"/>
<use href="#tr2" x="473.2" y="290.7"/>
<use href="#tr2" x="483.8" y="261.8"/>
<use href="#tr2" x="494.5" y="242.1"/>
<use href="#tr2" x="505.2" y="213.5"/>
<use href="#tr2" x="515.9" y="184.7"/>
<use href="#tr2" x="526.5" y="167.5"/>
<use href="#tr2" x="537.2" y="155.6"/>
<use href="#tr2" x="547.9" y="150.8"/>
<use href="#tr2" x="558.5" y="150.0"/>
<use href="#tr2" x="569.2" y="147.6"/>
<use href="#tr2" x="579.9" y="148.4"/>
<use href="#tr2" x="590.5" y="152.9"/>
<use href="#tr2" x="601.2" y="159.4"/>
<use href="#tr2" x="611.9" y="170.3"/>
<use href="#tr2" x="622.6" y="181.0"/>
<use href="#tr2" x="633.2" y="206.2"/>
<use href="#tr2" x="643.9" y="222.4"/>
<use href="#tr2" x="654.6" y="246.7"/>
<use href="#tr2" x="665.2" y="287.0"/>
<use href="#tr2" x="675.9" y="317.6"/>
<use href="#tr2" x="686.6" y="328.5"/>
<use href="#tr2" x="697.2" y="347.7"/>
<use href="#tr2" x="707.9" y="374.4"/>
<use href="#tr2" x="718.6" y="398.4"/>
<use href="#tr2" x="729.2" y="422.3"/>
</g>
<polyline points="334.5,470.7 337.1,470.7 339.8,470.7 342.5,470.7 345.1,470.7 347.8,470.7 350.5,470.7 353.1,470.6 355.8,470.6 358.5,470.5 361.1,470.5 363.8,470.4 366.5,470.3 369.1,470.1 371.8,469.9 374.5,469.7 377.1,469.4 379.8,469.0 382.5,468.5 385.1,467.9 387.8,467.1 390.5,466.1 393.1,465.0 395.8,463.6 398.5,461.9 401.1,459.8 403.8,457.4 406.5,454.5 409.2,451.2 411.8,447.5 414.5,443.2 417.2,438.4 419.8,433.1 422.5,427.4 425.2,421.2 427.8,414.5 430.5,407.6 433.2,400.3 435.8,392.7 438.5,385.0 441.2,377.0 443.8,369.0 446.5,360.9 449.2,352.8 451.8,344.6 454.5,336.5 457.2,328.5 459.8,320.6 462.5,312.7 465.2,305.0 467.8,297.4 470.5,289.9 473.2,282.6 475.8,275.5 478.5,268.5 481.2,261.7 483.8,255.1 486.5,248.7 489.2,242.5 491.8,236.4 494.5,230.6 497.2,224.9 499.8,219.5 502.5,214.2 505.2,209.1 507.8,204.3 510.5,199.6 513.2,195.2 515.9,190.9 518.5,186.9 521.2,183.0 523.9,179.4 526.5,176.0 529.2,172.8 531.9,169.8 534.5,166.9 537.2,164.3 539.9,162.0 542.5,159.8 545.2,157.8 547.9,156.0 550.5,154.5 553.2,153.1 555.9,152.0 558.5,151.0 561.2,150.3 563.9,149.8 566.5,149.5 569.2,149.4 571.9,149.5 574.5,149.7 577.2,150.2 579.9,150.9 582.5,151.7 585.2,152.7 587.9,154.0 590.5,155.4 593.2,157.0 595.9,158.8 598.5,160.7 601.2,162.9 603.9,165.2 606.5,167.8 609.2,170.5 611.9,173.4 614.5,176.5 617.2,179.8 619.9,183.2 622.6,186.9 625.2,190.7 627.9,194.8 630.6,199.0 633.2,203.4 635.9,207.9 638.6,212.7 641.2,217.6 643.9,222.7 646.6,228.0 649.2,233.5 651.9,239.2 654.6,245.0 657.2,251.0 659.9,257.2 662.6,263.5 665.2,270.0 667.9,276.6 670.6,283.4 673.2,290.4 675.9,297.5 678.6,304.7 681.2,312.0 683.9,319.5 686.6,327.0 689.2,334.6 691.9,342.3 694.6,350.0 697.2,357.7 699.9,365.4 702.6,373.1 705.2,380.7 707.9,388.2 710.6,395.5 713.2,402.6 715.9,409.4 718.6,416.0 721.2,422.2 723.9,428.0 726.6,433.5 729.2,438.5 731.9,443.0 734.6,447.1 737.3,450.8 739.9,454.0 742.6,456.7 745.3,459.2 747.9,461.2 750.6,462.9 753.3,464.4 755.9,465.6 758.6,466.6 761.3,467.4 763.9,468.1 766.6,468.7 769.3,469.1 771.9,469.4 774.6,469.7 777.3,470.0 779.9,470.1 782.6,470.3 785.3,470.4 787.9,470.5 790.6,470.5 793.3,470.6 795.9,470.6 798.6,470.7 801.3,470.7 803.9,470.7" fill="none" stroke="#00f000" stroke-width="5.4" stroke-linejoin="round"/>
</g>
<g font-size="39.5px" text-anchor="middle" stroke="#000" stroke-width="0.4">
<text x="356.1" y="517.7">-20</text>
<text x="462.8" y="517.7">-10</text>
<text x="569.2" y="517.7">0</text>
<text x="675.9" y="517.7">10</text>
<text x="782.6" y="517.7">20</text>
</g>
<g font-size="39.5px" text-anchor="end" stroke="#000" stroke-width="0.4">
<text x="323" y="161.8">10</text>
<text x="321.6" y="297.7">1</text>
<text x="321.6" y="433.6">0.1</text>
</g>
<text x="670.8" y="178.3" font-size="40.5px">t<tspan font-size="23px" dx="0.5" dy="-20">*</tspan><tspan dy="20"> = 60</tspan></text>
<text transform="translate(531.0,577.9) skewX(10)" x="0" y="0" font-size="57px" style="font-family:IPAGothic,'Liberation Serif',serif">ζ</text>
<text x="577.6" y="589.5" font-size="29px">t<tspan font-size="18px" dx="1.5" dy="-15">*</tspan></text>
<g transform="translate(236.4,338) rotate(-90)">
<text transform="translate(-2.1,0) scale(1.165,1)" x="0" y="0" font-size="52px">ρ</text>
<text x="27" y="0" font-size="33px">(</text>
<text transform="translate(26.7,5.9) skewX(10)" x="0" y="0" font-size="57px" style="font-family:IPAGothic,'Liberation Serif',serif">ζ</text>
<text x="64.5" y="19.5" font-size="29px">t<tspan font-size="18px" dx="1" dy="-16.5">*</tspan></text>
<text x="82" y="0" font-size="33px">)</text>
</g>
<text transform="translate(451.6,754) scale(1.07,1.02)" x="0" y="0" font-size="67px">τ</text>
<g transform="translate(33.8,403) rotate(-90)">
<text x="0" y="0" font-size="65px" stroke="#000" stroke-width="1.5" transform="translate(-1.6,-1.2) scale(0.9,1)">c</text>
<text x="29" y="0" font-size="50px">(</text>
<text x="44" y="0" font-size="66px">τ</text>
<text x="72" y="0" font-size="50px">)</text>
</g>
<rect x="77.6" y="0.4" width="193.2" height="142" fill="#fff" stroke="#000" stroke-width="1.3"/>
<use href="#sq" x="110.4" y="29"/>
<use href="#ci" x="110.5" y="75"/>
<use href="#tr" x="110.5" y="121.4"/>
<g font-size="37.3px" stroke="#000" stroke-width="0.3">
<text x="140.8" y="37.8"><tspan font-style="italic">H</tspan> = 0</text>
<text x="140.8" y="83.8"><tspan font-style="italic">H</tspan> = -0.4</text>
<text x="140.8" y="130.2"><tspan font-style="italic">H</tspan> = -0.8</text>
</g>
</svg>
</body></html>
